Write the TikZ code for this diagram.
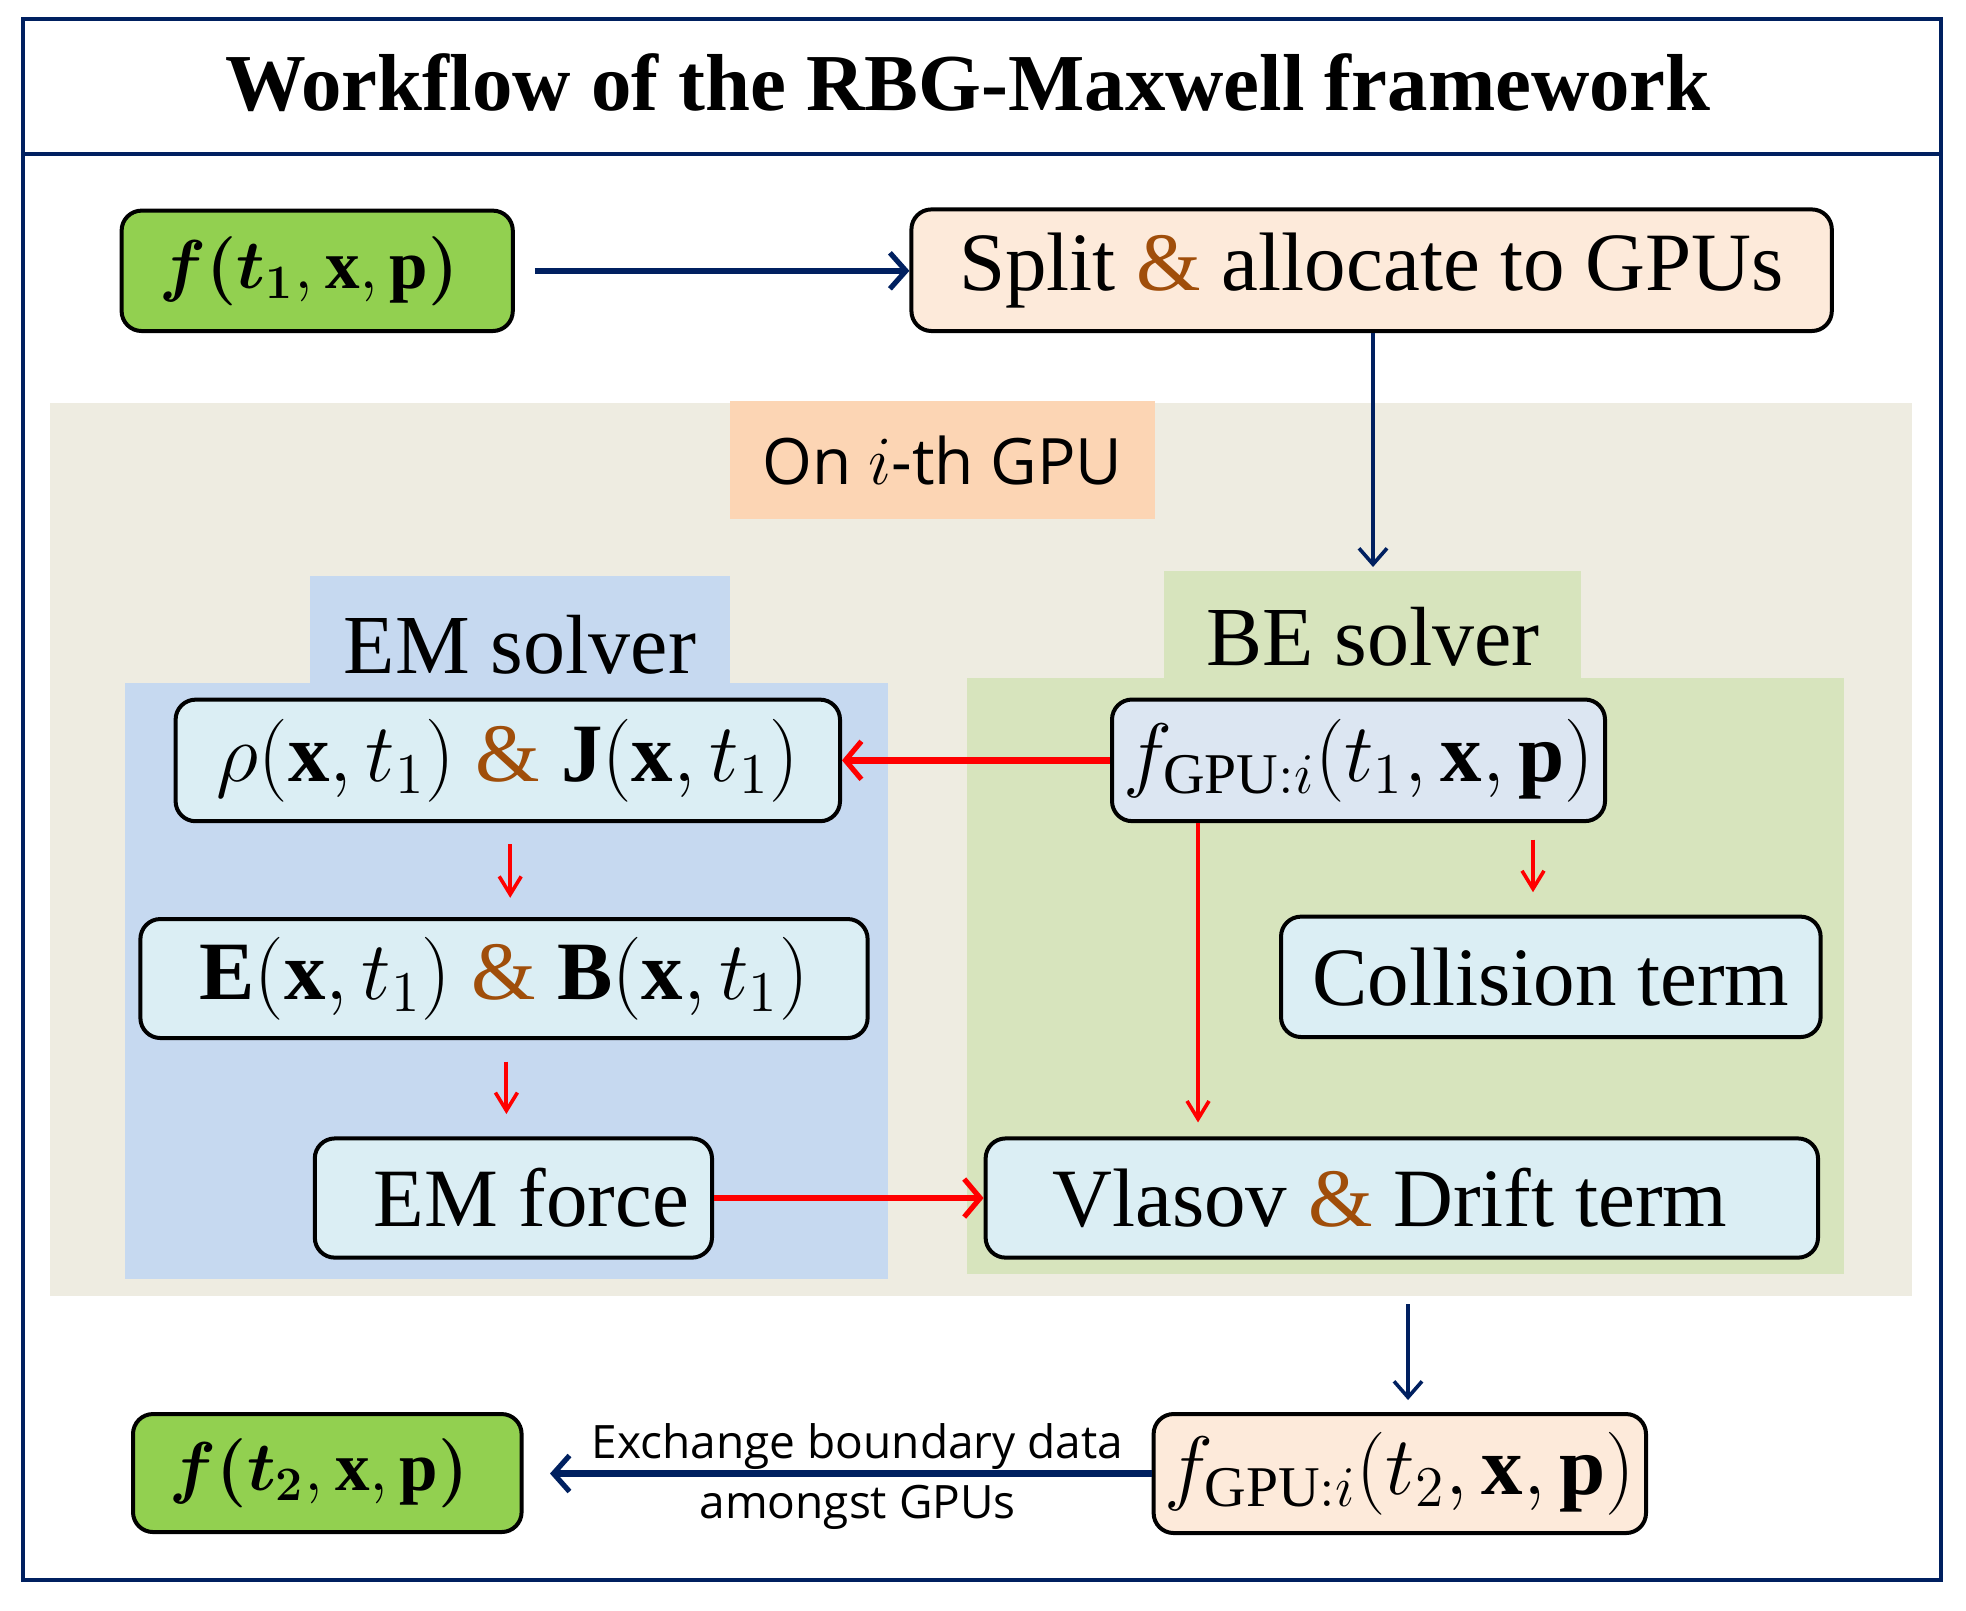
\documentclass[tikz,border=0pt]{standalone}
\usepackage{fontspec}
\usepackage{bm}
\setmainfont{Liberation Serif}
\newfontfamily\sansf{Open Sans}
\usetikzlibrary{arrows.meta}
\definecolor{navy}{RGB}{0,32,96}
\definecolor{fgreen}{RGB}{146,208,80}
\definecolor{peach}{RGB}{253,234,218}
\definecolor{beige}{RGB}{238,236,225}
\definecolor{onbox}{RGB}{252,213,180}
\definecolor{emblue}{RGB}{198,217,240}
\definecolor{begreen}{RGB}{215,228,189}
\definecolor{cyanbox}{RGB}{219,238,244}
\definecolor{gpubox}{RGB}{220,230,242}
\definecolor{amp}{RGB}{160,78,10}
\definecolor{redarr}{RGB}{255,0,0}
\newcommand\boxfont{\fontsize{20.74}{24}\selectfont}
\newcommand\am{\textcolor{amp}{\&}}
\newcommand\fbold[1]{$\bm{f}\bm{(}\bm{t}_{\bm{#1}},\mathbf{x},\mathbf{p}\bm{)}$}
\tikzset{
  flowbox/.style={draw=black, line width=1pt, rounded corners=5pt, inner sep=0pt, font=\boxfont},
  navyarr/.style={draw=navy, line width=1.6pt, -{Straight Barb[length=4pt,width=9pt,line width=1.3pt]}},
  navythin/.style={draw=navy, line width=0.9pt, -{Straight Barb[length=4pt,width=7pt,line width=0.9pt]}},
  redthick/.style={draw=redarr, line width=1.6pt, -{Straight Barb[length=4pt,width=9.5pt,line width=1.3pt]}},
  redthin/.style={draw=redarr, line width=1pt, -{Straight Barb[length=4.5pt,width=5.5pt,line width=0.9pt]}},
}
\begin{document}
\begin{tikzpicture}[x=0.25pt,y=-0.25pt]
\useasboundingbox (0,0) rectangle (1966,1610);
% frame
\draw[navy, line width=1pt] (22.6,18.8) rectangle (1941,1580);
\draw[navy, line width=1pt] (22.6,154) -- (1941,154);
\node[anchor=base, font=\fontsize{20.2}{24}\selectfont\bfseries] (title) at (968,110) {Workflow of the RBG-Maxwell framework};
% backgrounds
\fill[beige] (50,402.5) rectangle (1912,1296);
\fill[emblue] (309.7,575.5) rectangle (729.7,684);
\fill[emblue] (125.4,683) rectangle (887.7,1279);
\fill[begreen] (1163.5,570.5) rectangle (1581,679);
\fill[begreen] (966.7,678) rectangle (1844.3,1274);
\node[fill=onbox, minimum width=106.25pt, minimum height=29.5pt, inner sep=0pt, font=\sansf\fontsize{16}{19}\selectfont] (ongpu) at (942.5,460) {On $i$-th GPU};
\node[anchor=base, font=\fontsize{21}{24}\selectfont] (emsolver) at (520,673) {EM solver};
\node[anchor=base, font=\fontsize{21}{24}\selectfont] (besolver) at (1373,665) {BE solver};
% boxes
\node[flowbox, fill=fgreen, minimum width=97.8pt, minimum height=30.1pt, font=\fontsize{17.28}{20}\selectfont] (f1) at (317.2,270.8) {\fbold{1}\hspace*{4pt}};
\node[flowbox, fill=peach, minimum width=230.1pt, minimum height=30.4pt] (split) at (1371.6,270.2) {Split \am{} allocate to GPUs};
\node[flowbox, fill=cyanbox, minimum width=166.1pt, minimum height=30.4pt] (rho) at (507.8,760.4) {$\rho(\mathbf{x},t_1)$ \am{} $\mathbf{J}(\mathbf{x},t_1)$};
\node[flowbox, fill=cyanbox, minimum width=181.8pt, minimum height=29.75pt] (E) at (504,978.5) {$\mathbf{E}(\mathbf{x},t_1)$ \am{} $\mathbf{B}(\mathbf{x},t_1)$};
\node[flowbox, fill=cyanbox, minimum width=99.3pt, minimum height=29.8pt] (emforce) at (513.4,1198) {\hspace*{9pt}EM force};
\node[flowbox, fill=gpubox, minimum width=123.25pt, minimum height=30.4pt] (fgpu) at (1358.5,760.3) {$f_{\mathrm{GPU}:i}(t_1,\mathbf{x},\mathbf{p})$};
\node[flowbox, fill=cyanbox, minimum width=134.9pt, minimum height=30.1pt] (collision) at (1550.8,976.8) {Collision term};
\node[flowbox, fill=cyanbox, minimum width=208.1pt, minimum height=29.8pt] (vlasov) at (1401.8,1198) {Vlasov \am{} Drift term\hspace*{6pt}};
\node[flowbox, fill=peach, minimum width=123.1pt, minimum height=29.75pt] (fgpu2) at (1399.8,1473.5) {$f_{\mathrm{GPU}:i}(t_2,\mathbf{x},\mathbf{p})$};
\node[flowbox, fill=fgreen, minimum width=97.15pt, minimum height=29.5pt, font=\fontsize{17.28}{20}\selectfont] (f2) at (327.3,1473) {\fbold{2}\hspace*{4pt}};
% labels of exchange
\node[anchor=base, font=\sansf\fontsize{11.5}{14}\selectfont, inner sep=0pt] (exch1) at (857.6,1458) {Exchange boundary data};
\node[anchor=base, font=\sansf\fontsize{11.5}{14}\selectfont, inner sep=0pt] (exch2) at (857.6,1518) {amongst GPUs};
% connectors
\coordinate (splitend) at (1373,567);
\coordinate (gpuout) at (1408,1304);
\draw[navyarr, shorten <=5pt] (f1.east) -- (f1.east -| split.west);
\draw[navythin] (split.south -| splitend) -- (splitend);
\draw[redthick] (fgpu.west) -- (fgpu.west -| rho.east);
\draw[redthin, shorten <=5.3pt, shorten >=4.8pt] ([xshift=0.6pt]rho.south) -- ([xshift=0.6pt]rho.south |- E.north);
\draw[redthin, shorten <=5.4pt, shorten >=5.6pt] ([xshift=0.6pt]E.south) -- ([xshift=0.6pt]E.south |- emforce.north);
\draw[redthin, shorten >=3.5pt] ([xshift=22pt]fgpu.south west) -- ([xshift=22pt]fgpu.south west |- vlasov.north);
\draw[redthin, shorten <=4.1pt, shorten >=5.6pt] ([xshift=-18.5pt]fgpu.south east) -- ([xshift=-18.5pt]fgpu.south east |- collision.north);
\draw[redthick] (emforce.east) -- (emforce.east -| vlasov.west);
\draw[navythin, shorten >=3pt] (gpuout) -- (gpuout |- fgpu2.north);
\draw[navyarr, shorten >=6.6pt] (fgpu2.west) -- (fgpu2.west -| f2.east);
\end{tikzpicture}
\end{document}
